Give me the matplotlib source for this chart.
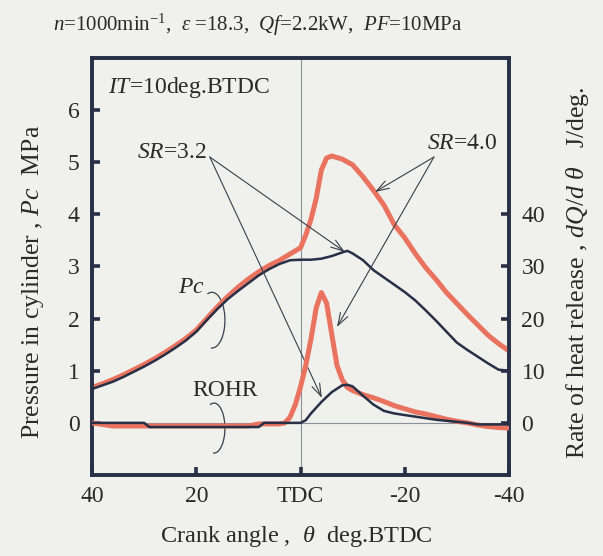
# In-cylinder pressure and rate of heat release vs crank angle
# SR = 3.2 and SR = 4.0, IT = 10 deg BTDC

import matplotlib
matplotlib.use("Agg")
import matplotlib.pyplot as plt
from matplotlib.patches import Arc

plt.rcParams['font.family'] = 'Liberation Serif'
plt.rcParams['mathtext.fontset'] = 'custom'
plt.rcParams['mathtext.rm'] = 'Liberation Serif'
plt.rcParams['mathtext.it'] = 'Liberation Serif:italic'

# crank angle (deg BTDC) and cylinder pressure (MPa)
ang_pc32 = [40, 38, 36, 34, 32, 30, 28, 26, 24, 22, 20, 18, 16, 14, 12, 10, 8, 6, 4, 2,
            0, -2, -4, -6, -8, -9, -10, -12, -14, -16, -18, -20, -22, -24, -26, -28,
            -30, -32, -34, -36, -38, -40]
pc_32 = [0.65, 0.72, 0.79, 0.88, 0.98, 1.08, 1.19, 1.31, 1.44, 1.58, 1.75, 1.97, 2.18,
         2.37, 2.53, 2.68, 2.83, 2.95, 3.05, 3.12, 3.13, 3.13, 3.15, 3.20, 3.27, 3.30,
         3.25, 3.12, 2.93, 2.79, 2.65, 2.51, 2.35, 2.16, 1.96, 1.75, 1.54, 1.40, 1.27,
         1.14, 1.02, 1.00]

ang_pc40 = [40, 38, 36, 34, 32, 30, 28, 26, 24, 22, 20, 18, 16, 14, 12, 10, 8, 6, 4, 2,
            0, -1, -2, -3, -4, -5, -6, -8, -10, -12, -14, -16, -18, -20, -22, -24, -26,
            -28, -30, -32, -34, -36, -38, -40]
pc_40 = [0.68, 0.75, 0.83, 0.92, 1.02, 1.12, 1.23, 1.35, 1.48, 1.62, 1.78, 2.00, 2.22,
         2.42, 2.60, 2.76, 2.90, 3.02, 3.12, 3.24, 3.36, 3.60, 3.90, 4.30, 4.85, 5.08,
         5.12, 5.06, 4.95, 4.72, 4.46, 4.18, 3.80, 3.55, 3.25, 2.98, 2.75, 2.50, 2.29,
         2.08, 1.88, 1.68, 1.52, 1.38]

# rate of heat release (J/deg)
ang_hr32 = [40, 30, 29, 8, 7, 0, -1, -2, -4, -6, -8, -9, -10, -12, -14, -16, -18, -20,
            -22, -24, -26, -28, -30, -32, -34, -40]
hr_32 = [0.0, 0.0, -0.8, -0.8, 0.0, 0.0, 0.5, 1.8, 4.0, 5.9, 7.2, 7.3, 7.0, 5.2, 3.5,
         2.3, 1.8, 1.5, 1.2, 0.9, 0.6, 0.4, 0.2, 0.0, -0.3, -0.3]

ang_hr40 = [40, 38, 36, 10, 8, 4, 3, 2, 1, 0, -1, -2, -3, -4, -5, -6, -7, -8, -9, -10,
            -12, -14, -16, -18, -20, -22, -24, -26, -28, -30, -32, -34, -36, -38, -40]
hr_40 = [0.0, -0.3, -0.6, -0.6, -0.2, -0.2, 0.0, 1.1, 3.5, 6.9, 11.0, 16.0, 22.0, 25.0,
         23.0, 17.0, 11.0, 8.3, 6.8, 6.2, 5.4, 4.8, 4.1, 3.3, 2.7, 2.1, 1.7, 1.2, 0.7,
         0.3, 0.0, -0.4, -0.7, -0.9, -1.0]

x_ticks = [40, 20, 0, -20, -40]
x_ticklabels = ['40', '20', 'TDC', '-20', '-40']
pc_ticks = [0, 1, 2, 3, 4, 5, 6]
hr_ticks = [0, 10, 20, 30, 40]

bg = '#f0f0ec'
ink = '#273046'
red = '#ea7360'
txt = '#2a2a2a'

fig = plt.figure(figsize=(6.03, 5.56), dpi=100, facecolor=bg)
ax = fig.add_axes([0.1526, 0.1457, 0.6915, 0.75])
ax.set_facecolor(bg)
ax2 = ax.twinx()

ax.set_xlim(40, -40)
ax.set_ylim(-1, 7)
ax2.set_ylim(-10, 70)

ax.axvline(0, color='#8a8f98', lw=0.8, zorder=1)
ax.axhline(0, color='#8a8f98', lw=0.8, zorder=1)

ax.plot(ang_pc40, pc_40, color=red, lw=3.6, solid_capstyle='butt', zorder=3)
ax.plot(ang_pc32, pc_32, color=ink, lw=1.8, zorder=4)
ax2.plot(ang_hr40, hr_40, color=red, lw=3.6, solid_capstyle='butt', zorder=3)
ax2.plot(ang_hr32, hr_32, color=ink, lw=1.8, zorder=4)

for a in (ax, ax2):
    for s in a.spines.values():
        s.set_linewidth(2.6)
        s.set_color(ink)

ax.set_xticks(x_ticks)
ax.set_xticklabels(x_ticklabels)
ax.set_yticks(pc_ticks)
ax2.set_yticks(hr_ticks)
ax.tick_params(axis='both', direction='in', length=6, width=2.6, color=ink,
               labelsize=17, labelcolor=txt, pad=9)
ax.tick_params(axis='x', pad=8)
ax2.tick_params(axis='y', direction='in', length=6, width=2.6, color=ink,
                labelsize=17, labelcolor=txt, pad=9)

tkw = dict(fontsize=17, color=txt)
ax.text(36.9, 6.44, r'$IT$=10deg.BTDC', va='center', ha='left', **tkw)
ax.text(17.9, 5.19, r'$SR$=3.2', va='center', ha='right', **tkw)
ax.text(-24.3, 5.36, r'$SR$=4.0', va='center', ha='left', **tkw)
ax.text(23.5, 2.6, r'$Pc$', va='center', ha='left', **tkw)
ax.text(20.8, 0.63, 'ROHR', va='center', ha='left', **tkw)

arw = dict(arrowstyle='->,head_length=0.9,head_width=0.3', lw=0.8, color='#3a3f4a',
           shrinkA=0, shrinkB=0)
ax.annotate('', xy=(-8.5, 3.28), xytext=(17.4, 5.10), arrowprops=arw, zorder=5)
ax.annotate('', xy=(-4.1, 0.48), xytext=(17.4, 5.10), arrowprops=arw, zorder=5)
ax.annotate('', xy=(-14.3, 4.43), xytext=(-25.6, 5.10), arrowprops=arw, zorder=5)
ax.annotate('', xy=(-7.0, 1.84), xytext=(-25.6, 5.10), arrowprops=arw, zorder=5)

# brackets around the curve pairs
ax.add_patch(Arc((17.0, 1.97), 5.0, 1.07, theta1=30, theta2=290, lw=0.9, color='#3a3f4a'))
ax.add_patch(Arc((16.6, -0.1), 4.2, 0.96, theta1=30, theta2=290, lw=0.9, color='#3a3f4a'))

fig.text(0.427, 0.955,
         r'$n$=1000min$^{-1}$,  $\varepsilon$ =18.3,  $Qf$=2.2kW,  $PF$=10MPa',
         ha='center', va='center', fontsize=15, color=txt)
fig.text(0.492, 0.012, r'Crank angle ,  $\theta$  deg.BTDC', ha='center', va='bottom',
         fontsize=17.5, color=txt)
fig.text(0.055, 0.493, r'Pressure in cylinder , $Pc$  MPa', rotation=90,
         ha='center', va='center', fontsize=18.5, color=txt)
fig.text(0.957, 0.51, r'Rate of heat release , $dQ/d\ \theta$   J/deg.', rotation=90,
         ha='center', va='center', fontsize=18.5, color=txt)

fig.savefig('out.png', dpi=100, facecolor=bg)
